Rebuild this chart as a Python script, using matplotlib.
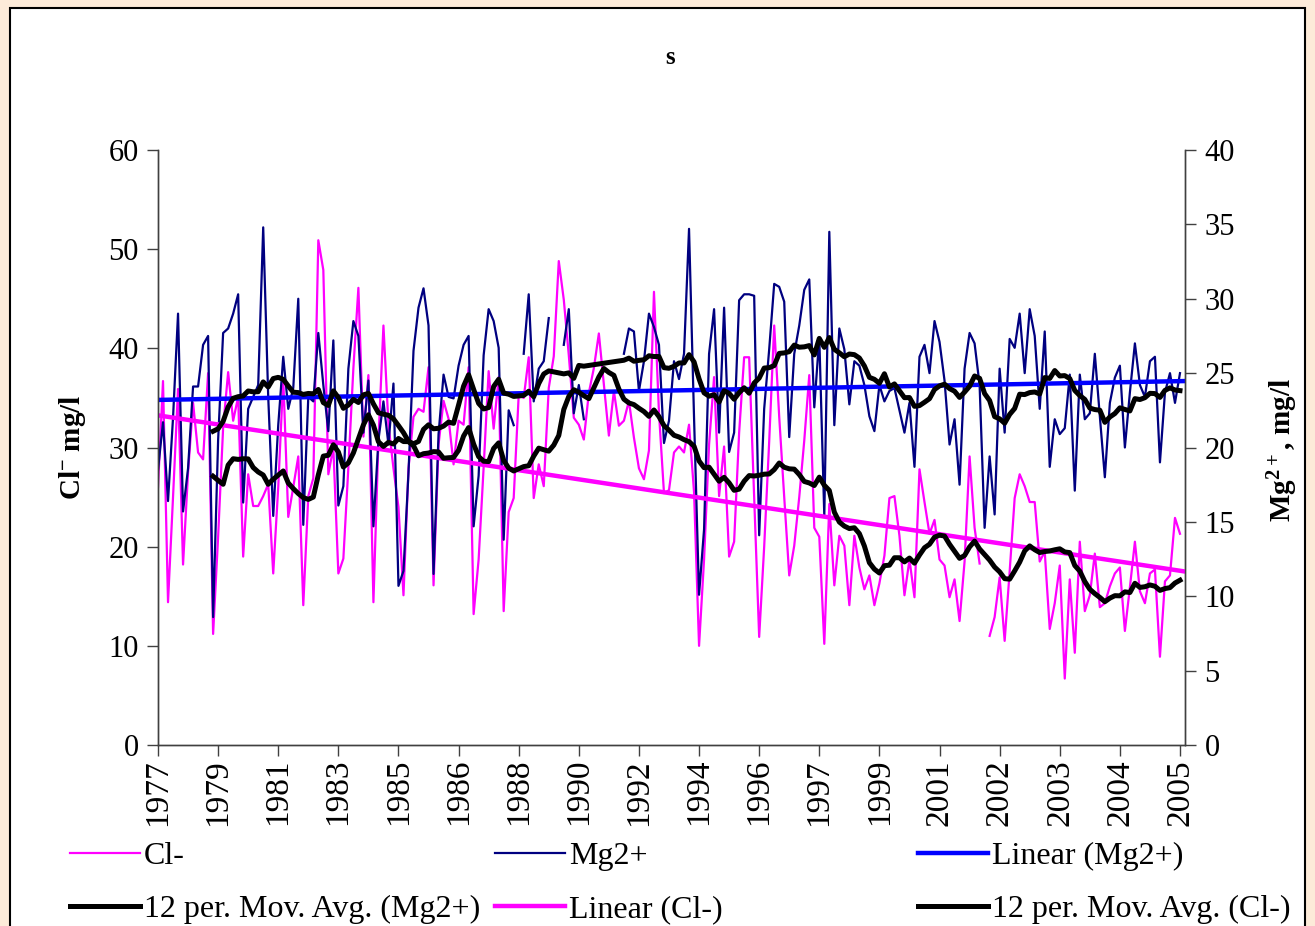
import numpy as np
import pandas as pd
import matplotlib
matplotlib.use("Agg")
import matplotlib.pyplot as plt
from matplotlib.patches import Rectangle

plt.rcParams['font.family'] = ['Liberation Serif', 'DejaVu Serif']
plt.rcParams['mathtext.fontset'] = 'custom'
plt.rcParams['mathtext.rm'] = 'Liberation Serif'
plt.rcParams['mathtext.bf'] = 'Liberation Serif:bold'
plt.rcParams['mathtext.default'] = 'bf'

nan = np.nan

# Category labels shown every 12 samples
year_ticks = ['1977', '1979', '1981', '1983', '1985', '1986', '1988', '1990', '1992',
              '1994', '1996', '1997', '1999', '2001', '2002', '2003', '2004', '2005']
n_categories = 206
tick_step = 12

# Chloride, mg/l (left axis)
cl = [26, 36.7, 14.4, 25, 35.9, 18.2, 27.5, 34.5, 29.5, 28.8, 37.5, 11.2,
      21, 32, 37.6, 32.7, 35.1, 19.0, 27.3, 24.1, 24.1, 25.1, 26.3, 17.3,
      26, 37, 23, 26, 29.1, 14.1, 25.1, 26.9, 50.9, 47.9, 27.3, 30,
      17.3, 18.8, 28, 38, 46.1, 31.1, 37.3, 14.4, 30.7, 42.3, 32.3, 27.9,
      24, 15.1, 27.9, 33.1, 33.9, 33.6, 38.1, 16.1, 30.3, 34.7, 32.9, 28.3,
      32.7, 32.3, 38.1, 13.2, 18.7, 28, 37.7, 31.9, 37.1, 13.5, 23.5, 24.9,
      35.3, 35, 39.1, 24.9, 28.3, 26.1, 36, 39.2, 48.8, 44.9, 39.3, 33,
      32.3, 30.8, 35.5, 38, 41.5, 36.3, 31.2, 35.7, 32.2, 32.7, 34.7, 31,
      27.9, 26.8, 29.7, 45.7, 33.5, 25.4, 25.7, 29.5, 30.1, 29.5, 32.3, 25.5,
      10, 18.7, 30.3, 37.1, 25.1, 30.1, 19.0, 20.5, 31.5, 39.1, 39.1, 25,
      10.9, 20, 30.6, 42.3, 33.1, 25, 17.1, 20.1, 25, 30.7, 37.3, 21.9,
      21, 10.2, 24.3, 16.1, 21.1, 20.1, 14.1, 21.1, 17.9, 15.7, 17.1, 14.1,
      16.3, 19.1, 24.9, 25.1, 21.1, 15.1, 18.7, 14.9, 27.8, 24.5, 21.3, 22.7,
      18.7, 18.1, 14.9, 16.7, 12.5, 18.5, 29.1, 21.9, 18.3, nan, 11, 12.9,
      16.9, 10.5, 17.5, 24.9, 27.3, 26.1, 24.5, 24.5, 18.5, 19.5, 11.7, 14.3,
      18.1, 6.7, 16.7, 9.3, 20.5, 13.5, 15.1, 19.3, 13.9, 14.3, 16, 17.3,
      17.9, 11.5, 15.9, 20.5, 15.5, 14.3, 17.3, 17.7, 8.9, 16.5, 17.1, 22.9,
      21.3]

# Magnesium, mg/l (right axis)
mg = [18.5, 21.7, 16.4, 22, 29.0, 15.7, 18.6, 24.1, 24.1, 26.9, 27.5, 8.6,
      20.5, 27.7, 28.0, 29.0, 30.3, 16.3, 22.6, 23.4, 24.2, 34.8, 23.4, 15.4,
      21.5, 26.1, 22.6, 24, 30.0, 14.8, 23.4, 23.1, 27.7, 24.2, 21.1, 27.2,
      16.1, 17.4, 25.3, 28.5, 27.5, 21.0, 24.5, 14.7, 20.5, 23.1, 20.2, 24.3,
      10.7, 11.7, 18.3, 26.5, 29.4, 30.7, 28.2, 11.5, 20.9, 24.9, 23.4, 23.3,
      25.5, 26.9, 27.5, 14.7, 18.1, 26.2, 29.3, 28.5, 26.7, 13.8, 22.5, 21.5,
      nan, 26.3, 30.3, 23.1, 25.3, 25.8, 28.7, nan, nan, 26.9, 29.3, 22.3,
      24.2, 21.9, nan, nan, nan, nan, nan, nan, nan, 26.3, 28.0, 27.8,
      23.8, 25.8, 29.0, 28.1, 26.9, 20.3, 21.8, 25.8, 24.6, 26.3, 34.7, 22,
      10.1, 14.5, 26.3, 29.3, 21.0, 29.4, 19.7, 21.0, 29.9, 30.3, 30.3, 30.2,
      14.1, 22.6, 26.6, 31.0, 30.8, 29.8, 20.7, 26.3, 28.2, 30.6, 31.3, 22.7,
      27.4, 15.4, 34.5, 21.5, 28.0, 26.6, 22.9, 25.8, 25.5, 24.2, 22.1, 21.1,
      24.2, 23.1, 23.8, 24.0, 22.5, 21.0, 23.0, 18.7, 26.1, 26.9, 25.0, 28.5,
      27.1, 24.5, 20.2, 21.9, 17.5, 25.3, 27.7, 27.0, 24.2, 14.6, 19.4, 15.5,
      25.3, 21.0, 27.3, 26.7, 29.0, 25.0, 29.3, 27.5, 22.6, 27.8, 18.7, 21.9,
      20.9, 21.3, 24.9, 17.1, 24.9, 21.9, 22.3, 26.3, 22.1, 18.0, 23.0, 24.7,
      25.5, 20.0, 23.7, 27.0, 24.2, 23.4, 25.8, 26.1, 19.0, 23.7, 25.0, 23.0,
      25.0]

cl_s = pd.Series(cl, dtype=float)
mg_s = pd.Series(mg, dtype=float)
x = np.arange(len(cl_s))
x_full = np.array([0, n_categories - 1])


def linear_trend(s):
    v = s.dropna()
    k, b = np.polyfit(v.index.values, v.values, 1)
    return k * x_full + b


def moving_average(s, n=12):
    v = s.dropna()
    return v.rolling(n).mean().dropna()


W, H = 1315, 926
fig = plt.figure(figsize=(W / 100, H / 100), dpi=100, facecolor='#FDEBD9')
fig.patches.append(Rectangle((10 / W, -0.05), 1295 / W, 1 - 8 / H + 0.05,
                             transform=fig.transFigure, facecolor='white',
                             edgecolor='black', linewidth=1.5, zorder=-10))

ax = fig.add_axes([158 / W, 1 - 745 / H, (1185 - 158) / W, (745 - 150) / H])
ax2 = ax.twinx()
ax.set_facecolor('white')
ax2.patch.set_visible(False)

l_cl, = ax.plot(x, cl_s.values, color='#FF00FF', lw=1.6)
l_mg, = ax2.plot(x, mg_s.values, color='#000080', lw=1.6)

l_lin_mg, = ax2.plot(x_full, linear_trend(mg_s), color='#0000FF', lw=3.2)
l_lin_cl, = ax2.plot(x_full, linear_trend(cl_s), color='#FF00FF', lw=3.2,
                     transform=ax.transData)
ma_mg = moving_average(mg_s)
ma_cl = moving_average(cl_s)
l_ma_mg, = ax2.plot(ma_mg.index, ma_mg.values, color='black', lw=3.6)
l_ma_cl, = ax2.plot(ma_cl.index, ma_cl.values, color='black', lw=3.6,
                    transform=ax.transData)

ax.set_xlim(0, n_categories - 1)
ax.set_ylim(0, 60)
ax2.set_ylim(0, 40)
ax.set_yticks(np.arange(0, 61, 10))
ax2.set_yticks(np.arange(0, 41, 5))
ax.set_xticks(np.arange(0, n_categories, tick_step)[:len(year_ticks)])
ax.set_xticklabels(year_ticks)

spine_c = '#404040'
for a in (ax, ax2):
    a.spines['top'].set_visible(False)
    for sp in ('left', 'right', 'bottom'):
        a.spines[sp].set_color(spine_c)
        a.spines[sp].set_linewidth(1.0)
ax.tick_params(axis='y', direction='out', length=8, width=1, color=spine_c,
               labelsize=22, pad=6)
ax2.tick_params(axis='y', direction='out', length=8, width=1, color=spine_c,
                labelsize=22, pad=6)
ax.tick_params(axis='x', direction='out', length=8, width=1, color=spine_c,
               labelsize=24, labelrotation=90, pad=2)

fig.text(670 / W, 1 - 57 / H, 's', fontsize=18, fontweight='bold',
         ha='center', va='center')
fig.text(72 / W, 1 - 447 / H, r'Cl$^{-}$ mg/l', fontsize=21, fontweight='bold',
         rotation=90, ha='center', va='center')
fig.text(1283 / W, 1 - 450 / H, r'Mg$^{2+}$, mg/l', fontsize=21, fontweight='bold',
         rotation=90, ha='center', va='center')

leg_kw = dict(loc='upper left', frameon=False, fontsize=23, borderpad=0,
              borderaxespad=0, handlelength=2.2, handletextpad=0.12,
              labelspacing=0.72)
leg_top = 1 - 842 / H
fig.legend([l_cl, l_ma_mg], ['Cl-', '12 per. Mov. Avg. (Mg2+)'],
           bbox_to_anchor=(70 / W, leg_top), **leg_kw)
fig.legend([l_mg, l_lin_cl], ['Mg2+', 'Linear (Cl-)'],
           bbox_to_anchor=(495 / W, leg_top), **leg_kw)
fig.legend([l_lin_mg, l_ma_cl], ['Linear (Mg2+)', '12 per. Mov. Avg. (Cl-)'],
           bbox_to_anchor=(918 / W, leg_top), **leg_kw)

fig.savefig('out.png', dpi=100, facecolor=fig.get_facecolor())
